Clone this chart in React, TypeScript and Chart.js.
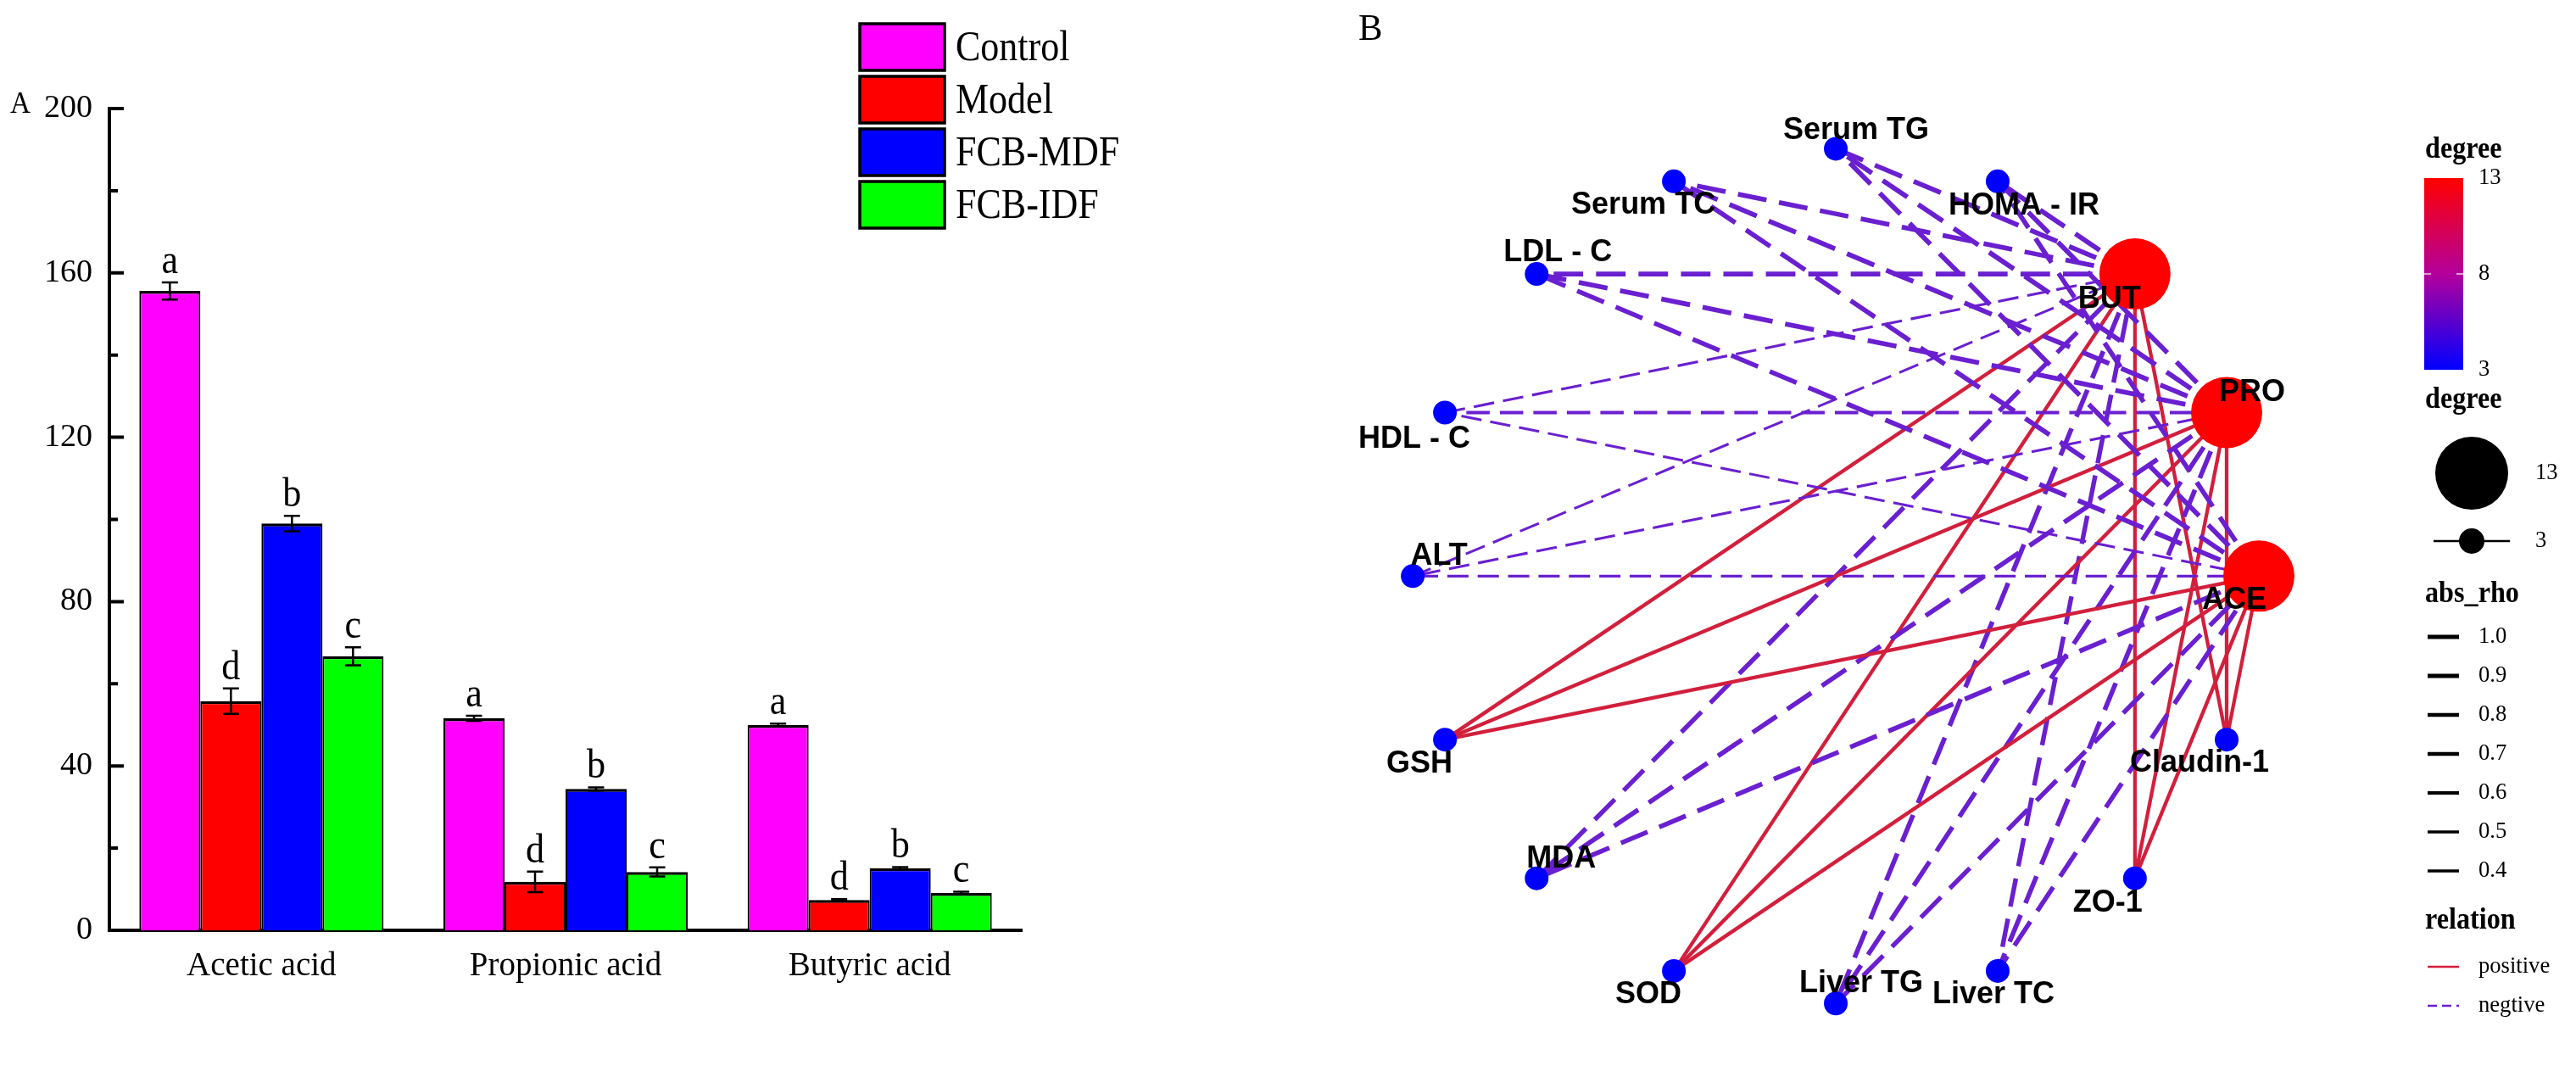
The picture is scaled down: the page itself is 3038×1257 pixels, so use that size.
import React, { useEffect, useRef } from "react";
import { Chart, registerables } from "chart.js";
Chart.register(...registerables);

// ---------------- Panel A data ----------------
const categories = ["Acetic acid", "Propionic acid", "Butyric acid"];
const groupNames = ["Control", "Model", "FCB-MDF", "FCB-IDF"];
const controlValues = [155.6, 51.6, 50.0];
const modelValues = [55.8, 11.8, 7.4];
const fcbMdfValues = [99.0, 34.4, 15.1];
const fcbIdfValues = [66.7, 14.2, 9.1];
const controlErrors = [2.1, 0.6, 0.3];
const modelErrors = [3.1, 2.5, 0.2];
const fcbMdfErrors = [1.9, 0.4, 0.3];
const fcbIdfErrors = [2.2, 1.1, 0.3];
const controlLetters = ["a", "a", "a"];
const modelLetters = ["d", "d", "d"];
const fcbMdfLetters = ["b", "b", "b"];
const fcbIdfLetters = ["c", "c", "c"];
const yTickValues = [0, 40, 80, 120, 160, 200];
const yMinorTickValues = [20, 60, 100, 140, 180];

// ---------------- Panel B data ----------------
const scfaNames = ["ACE", "PRO", "BUT"];
const indicatorNames = [
  "HOMA - IR", "Serum TG", "Serum TC", "LDL - C", "HDL - C", "ALT", "GSH",
  "MDA", "SOD", "Liver TG", "Liver TC", "ZO-1", "Claudin-1",
];
const rhoACE = [-0.88, -0.9, -0.89, -0.88, -0.52, -0.55, 0.72, -0.87, 0.7, -0.86, -0.87, 0.7, 0.69];
const rhoPRO = [-0.89, -0.91, -0.9, -0.89, -0.64, -0.53, 0.72, -0.88, 0.71, -0.87, -0.88, 0.7, 0.7];
const rhoBUT = [-0.9, -0.89, -0.88, -0.9, -0.53, -0.52, 0.71, -0.86, 0.7, -0.88, -0.86, 0.69, 0.7];
const degreeLegendValues = [13, 8, 3];
const sizeLegendValues = [13, 3];
const absRhoLegendValues = [1.0, 0.9, 0.8, 0.7, 0.6, 0.5, 0.4];
const relationLegendLabels = ["positive", "negtive"];

// ---------------- styles ----------------
const SERIF = "'Liberation Serif', 'Times New Roman', Times, serif";
const SANS = "'Liberation Sans', Arial, Helvetica, sans-serif";
const BAR_COLORS = ["#ff00ff", "#ff0000", "#0000ff", "#00ff00"];
const POS_COLOR = "#d21f3c";
const NEG_COLOR = "#6a1fd0";

// label nudges (pixels) for network nodes, in node order
const labelNudgeX = [-29, 30, -30, 31, 24, -36, 25, -36, 31, -30, 29, -30, 30, -5, -32, -32];
const labelNudgeY = [39, -14, 40, 39, -11, 38, -15, 41, -13, 39, -13, 38, -13, 38, 39, 38];

const A_W = 1560;
const B_LEFT = 1560;
const B_W = 3038 - B_LEFT;
const H = 1257;

function drawSquished(ctx: any, text: string, x: number, y: number, sx: number, align: string) {
  ctx.save();
  ctx.translate(x, y);
  ctx.scale(sx, 1);
  ctx.textAlign = align;
  ctx.fillText(text, 0, 0);
  ctx.restore();
}

function PanelA() {
  const ref = useRef<HTMLCanvasElement>(null);
  useEffect(() => {
    const values = [controlValues, modelValues, fcbMdfValues, fcbIdfValues];
    const errors = [controlErrors, modelErrors, fcbMdfErrors, fcbIdfErrors];
    const letters = [controlLetters, modelLetters, fcbMdfLetters, fcbIdfLetters];

    const decor = {
      id: "panelADecor",
      afterDatasetsDraw(chart: any) {
        const ctx = chart.ctx;
        const y = chart.scales.y;
        ctx.save();
        ctx.strokeStyle = "#000";
        ctx.fillStyle = "#000";
        for (let d = 0; d < values.length; d++) {
          const meta = chart.getDatasetMeta(d);
          meta.data.forEach((bar: any, j: number) => {
            const v = values[d][j];
            const e = errors[d][j];
            const yt = y.getPixelForValue(v + e);
            const yb = y.getPixelForValue(v - e);
            ctx.lineWidth = 2.5;
            ctx.beginPath();
            ctx.moveTo(bar.x, yt);
            ctx.lineTo(bar.x, yb);
            ctx.moveTo(bar.x - 9.5, yt);
            ctx.lineTo(bar.x + 9.5, yt);
            ctx.moveTo(bar.x - 9.5, yb);
            ctx.lineTo(bar.x + 9.5, yb);
            ctx.stroke();
            ctx.font = `48px ${SERIF}`;
            ctx.textBaseline = "alphabetic";
            drawSquished(ctx, letters[d][j], bar.x, yt - 11, 0.92, "center");
          });
        }
        // inward ticks on y axis
        const left = chart.chartArea.left;
        ctx.lineWidth = 4;
        ctx.beginPath();
        yTickValues.forEach((v) => {
          const p = y.getPixelForValue(v);
          ctx.moveTo(left, p);
          ctx.lineTo(left + 17, p);
        });
        yMinorTickValues.forEach((v) => {
          const p = y.getPixelForValue(v);
          ctx.moveTo(left, p);
          ctx.lineTo(left + 10, p);
        });
        ctx.stroke();
        ctx.restore();
      },
      afterDraw(chart: any) {
        const ctx = chart.ctx;
        ctx.save();
        // panel label
        ctx.fillStyle = "#000";
        ctx.font = `35px ${SERIF}`;
        ctx.textBaseline = "alphabetic";
        drawSquished(ctx, "A", 12, 133, 0.95, "left");
        // legend
        const bx = 1014, bw = 100, bh = 55, top0 = 28, step = 62;
        groupNames.forEach((g, i) => {
          const ty = top0 + i * step;
          ctx.fillStyle = BAR_COLORS[i];
          ctx.fillRect(bx, ty, bw, bh);
          ctx.strokeStyle = "#000";
          ctx.lineWidth = 3.5;
          ctx.strokeRect(bx, ty, bw, bh);
          ctx.fillStyle = "#000";
          ctx.font = `50px ${SERIF}`;
          ctx.textBaseline = "middle";
          drawSquished(ctx, g, bx + bw + 13, ty + bh / 2 + 2, 0.88, "left");
        });
        ctx.restore();
      },
    };

    const chart = new Chart(ref.current as HTMLCanvasElement, {
      type: "bar",
      data: {
        labels: categories,
        datasets: groupNames.map((g, i) => ({
          label: g,
          data: values[i],
          backgroundColor: BAR_COLORS[i],
          borderColor: "#000",
          borderWidth: { top: 3.5, left: 2, right: 2, bottom: 0 },
          borderSkipped: false,
          categoryPercentage: 0.803,
          barPercentage: 1,
        })),
      },
      options: {
        responsive: false,
        animation: false,
        events: [],
        layout: { padding: { left: 0, top: 128, right: A_W - 1205, bottom: 0 } },
        scales: {
          x: {
            grid: { display: false, drawTicks: false },
            border: { display: true, color: "#000", width: 4 },
            ticks: { color: "#000", font: { family: SERIF, size: 39 }, padding: 19 },
            afterFit: (s: any) => {
              s.height = H - 1097;
            },
          },
          y: {
            min: 0,
            max: 200,
            grid: { display: false, drawTicks: false },
            border: { display: true, color: "#000", width: 4 },
            ticks: { stepSize: 40, color: "#000", font: { family: SERIF, size: 38 }, padding: 20 },
            afterFit: (s: any) => {
              s.width = 129;
            },
          },
        },
        plugins: { legend: { display: false }, tooltip: { enabled: false } },
      } as any,
      plugins: [decor],
    });
    return () => chart.destroy();
  }, []);
  return (
    <canvas
      ref={ref}
      width={A_W}
      height={H}
      style={{ position: "absolute", left: 0, top: 0, width: A_W, height: H }}
    />
  );
}

function edgeWidth(r: number) {
  return 2.2 + (4.2 * (r - 0.4)) / 0.6;
}
function nodeRadius(deg: number) {
  return 14 + ((deg - 3) * 28) / 10;
}
function degreeColor(deg: number) {
  const t = Math.max(0, Math.min(1, (deg - 3) / 10));
  const r = Math.round(255 * t);
  const b = Math.round(255 * (1 - t));
  return `rgb(${r},0,${b})`;
}

function PanelB() {
  const ref = useRef<HTMLCanvasElement>(null);
  useEffect(() => {
    const allNodes = [...scfaNames, ...indicatorNames];
    const n = allNodes.length;
    const pos = allNodes.map((_, i) => {
      const a = (2 * Math.PI * i) / n;
      return { x: Math.cos(a), y: Math.sin(a) };
    });
    const rhoBySCFA = [rhoACE, rhoPRO, rhoBUT];
    const edges: { s: number; t: number; rho: number }[] = [];
    scfaNames.forEach((_, si) => {
      indicatorNames.forEach((_, ii) => {
        edges.push({ s: si, t: scfaNames.length + ii, rho: rhoBySCFA[si][ii] });
      });
    });
    const degree = allNodes.map((_, i) => edges.filter((e) => e.s === i || e.t === i).length);

    const edgeDatasets = edges.map((e) => {
      const w = edgeWidth(Math.abs(e.rho));
      const neg = e.rho < 0;
      return {
        data: [pos[e.s], pos[e.t]],
        showLine: true,
        borderColor: neg ? NEG_COLOR : POS_COLOR,
        borderWidth: w,
        borderDash: neg ? [12 + 4 * w, 5 + 1.8 * w] : [],
        borderCapStyle: "butt",
        pointRadius: 0,
        pointHoverRadius: 0,
        fill: false,
        order: 1,
      };
    });
    const nodeDataset = {
      data: pos,
      showLine: false,
      pointRadius: degree.map((d) => nodeRadius(d)),
      pointHoverRadius: degree.map((d) => nodeRadius(d)),
      backgroundColor: degree.map((d) => degreeColor(d)),
      borderWidth: 0,
      pointBorderWidth: 0,
      order: 0,
    };

    const decor = {
      id: "panelBDecor",
      afterDatasetsDraw(chart: any) {
        const ctx = chart.ctx;
        const meta = chart.getDatasetMeta(0);
        ctx.save();
        ctx.fillStyle = "#000";
        ctx.font = `bold 36px ${SANS}`;
        ctx.textAlign = "center";
        ctx.textBaseline = "alphabetic";
        meta.data.forEach((pt: any, i: number) => {
          ctx.fillText(allNodes[i], pt.x + labelNudgeX[i], pt.y + labelNudgeY[i]);
        });
        ctx.restore();
      },
      afterDraw(chart: any) {
        const ctx = chart.ctx;
        ctx.save();
        ctx.fillStyle = "#000";
        ctx.font = `45px ${SERIF}`;
        ctx.textBaseline = "alphabetic";
        drawSquished(ctx, "B", 42, 47, 0.95, "left");

        const lx = 1300;
        const title = (t: string, y: number) => {
          ctx.fillStyle = "#000";
          ctx.font = `bold 35px ${SERIF}`;
          ctx.textBaseline = "alphabetic";
          drawSquished(ctx, t, lx, y, 0.92, "left");
        };
        const label = (t: string, x: number, y: number) => {
          ctx.fillStyle = "#000";
          ctx.font = `28px ${SERIF}`;
          ctx.textBaseline = "middle";
          drawSquished(ctx, t, x, y, 0.95, "left");
        };
        // colour bar
        title("degree", 186);
        const cbx = 1299, cbw = 46, cbt = 210, cbb = 436;
        const grad = ctx.createLinearGradient(0, cbt, 0, cbb);
        grad.addColorStop(0, "#ff0000");
        grad.addColorStop(0.5, "#b4009c");
        grad.addColorStop(1, "#0000ff");
        ctx.fillStyle = grad;
        ctx.fillRect(cbx, cbt, cbw, cbb - cbt);
        degreeLegendValues.forEach((v) => {
          const yy = cbb - ((v - 3) / 10) * (cbb - cbt);
          if (v !== 13 && v !== 3) {
            ctx.strokeStyle = "rgba(255,255,255,0.8)";
            ctx.lineWidth = 1.5;
            ctx.beginPath();
            ctx.moveTo(cbx, yy);
            ctx.lineTo(cbx + 8, yy);
            ctx.moveTo(cbx + cbw - 8, yy);
            ctx.lineTo(cbx + cbw, yy);
            ctx.stroke();
          }
          label(String(v), 1363, yy);
        });
        // size legend
        title("degree", 481);
        const sy = [558, 638];
        sizeLegendValues.forEach((v, i) => {
          const r = nodeRadius(v);
          ctx.fillStyle = "#000";
          if (i === 1) {
            ctx.strokeStyle = "#000";
            ctx.lineWidth = 2.5;
            ctx.beginPath();
            ctx.moveTo(1310, sy[i]);
            ctx.lineTo(1400, sy[i]);
            ctx.stroke();
          }
          ctx.beginPath();
          ctx.arc(1355, sy[i], r + 1, 0, Math.PI * 2);
          ctx.fill();
          label(String(v), 1430, sy[i]);
        });
        // width legend
        title("abs_rho", 710);
        absRhoLegendValues.forEach((v, i) => {
          const yy = 751 + i * 46;
          ctx.strokeStyle = "#000";
          ctx.lineWidth = 3.4 + (v - 0.4) * 3;
          ctx.setLineDash([]);
          ctx.beginPath();
          ctx.moveTo(1303, yy);
          ctx.lineTo(1340, yy);
          ctx.stroke();
          label(v.toFixed(1), 1363, yy);
        });
        // relation legend
        title("relation", 1095);
        relationLegendLabels.forEach((t, i) => {
          const yy = 1140 + i * 46;
          ctx.strokeStyle = i === 0 ? POS_COLOR : NEG_COLOR;
          ctx.lineWidth = 2.5;
          ctx.setLineDash(i === 0 ? [] : [11, 6]);
          ctx.beginPath();
          ctx.moveTo(1303, yy);
          ctx.lineTo(1340, yy);
          ctx.stroke();
          ctx.setLineDash([]);
          label(t, 1363, yy);
        });
        ctx.restore();
      },
    };

    const chart = new Chart(ref.current as HTMLCanvasElement, {
      type: "scatter",
      data: { datasets: [nodeDataset, ...edgeDatasets] as any },
      options: {
        responsive: false,
        animation: false,
        events: [],
        layout: { padding: 0 },
        scales: {
          x: { type: "linear", min: -1.1285, max: 1.6655, display: false },
          y: { type: "linear", min: -1.063, max: 1.2648, display: false },
        },
        plugins: { legend: { display: false }, tooltip: { enabled: false } },
      } as any,
      plugins: [decor],
    });
    return () => chart.destroy();
  }, []);
  return (
    <canvas
      ref={ref}
      width={B_W}
      height={H}
      style={{ position: "absolute", left: B_LEFT, top: 0, width: B_W, height: H }}
    />
  );
}

export default function App() {
  return (
    <div
      style={{
        position: "absolute",
        left: 0,
        top: 0,
        width: 3038,
        height: H,
        background: "#fff",
        overflow: "hidden",
      }}
    >
      <PanelA />
      <PanelB />
    </div>
  );
}
